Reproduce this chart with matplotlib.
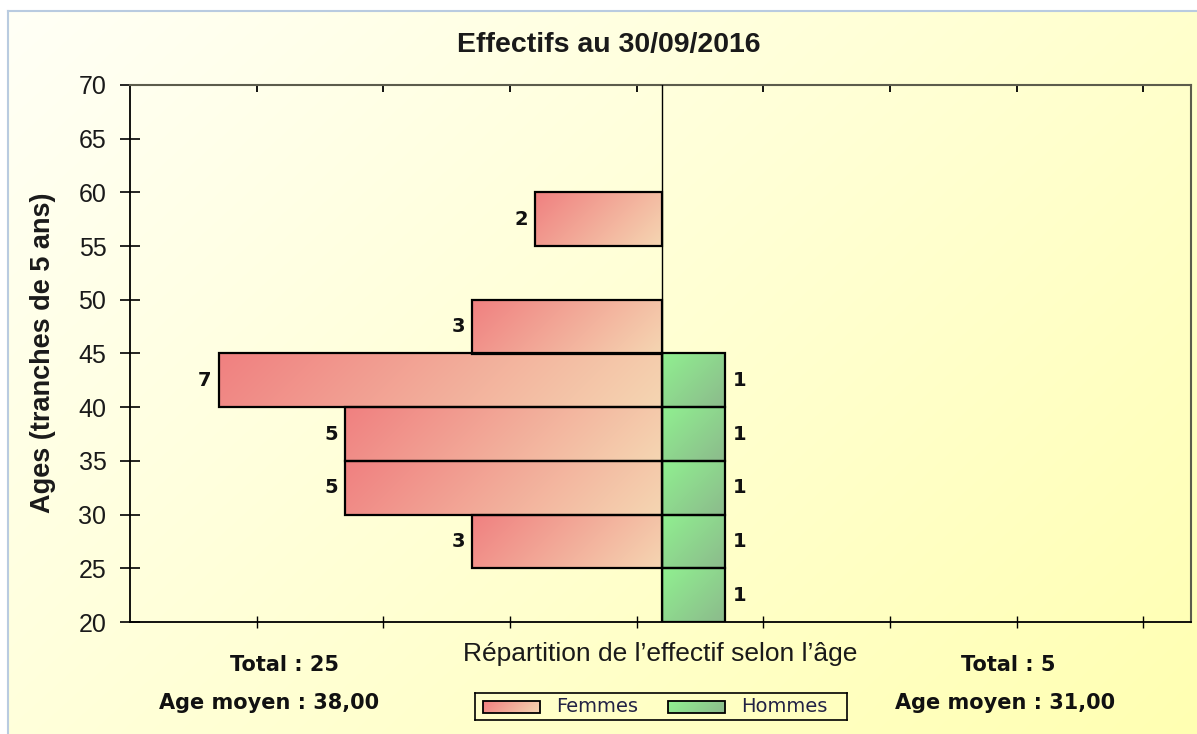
import numpy as np
import matplotlib
matplotlib.use("Agg")
import matplotlib.pyplot as plt
from matplotlib.patches import Rectangle

# tranches d'age (bas de chaque tranche de 5 ans)
tranches = [20, 25, 30, 35, 40, 45, 50, 55]
femmes = [0, 3, 5, 5, 7, 3, 0, 2]
hommes = [1, 1, 1, 1, 1, 0, 0, 0]

titre = "Effectifs au 30/09/2016"
total_f, age_f = "Total : 25", "Age moyen : 38,00"
total_h, age_h = "Total : 5", "Age moyen : 31,00"

W, H = 1197, 734
fig = plt.figure(figsize=(W / 100, H / 100), dpi=100)
fig.patch.set_facecolor("white")


def fx(px):
    return px / W


def fy(py):
    return 1 - py / H


def degrade(c0, c1, nx, ny):
    # gradient diagonal haut-gauche -> bas-droite, en pixels
    j = np.arange(nx)[None, :]
    i = np.arange(ny)[:, None]
    t = (i + j) / max(nx + ny - 2, 1)
    c0 = np.array(c0) / 255.0
    c1 = np.array(c1) / 255.0
    return c0[None, None, :] * (1 - t[..., None]) + c1[None, None, :] * t[..., None]


# fond jaune degrade
bg = fig.add_axes([0, 0, 1, 1], zorder=-5)
bg.axis("off")
bg.imshow(degrade((255, 255, 246), (255, 255, 178), 300, 200),
          extent=(8, W, H, 11), aspect="auto", interpolation="bilinear")
bg.plot([8, 8], [11, H], color="#b9cbe0", lw=1.5)
bg.plot([8, W], [11, 11], color="#b9cbe0", lw=1.5)
bg.set_xlim(0, W)
bg.set_ylim(H, 0)

ax = fig.add_axes([fx(130), fy(622), fx(1191 - 130), (622 - 85) / H])
ax.set_facecolor("none")
ax.set_xlim(-8.4, 8.35)
ax.set_ylim(20, 70)

rose = ((240, 128, 128), (245, 214, 178))
vert = ((144, 240, 144), (140, 186, 140))

f_y = [t for t, v in zip(tranches, femmes) if v]
f_v = [v for v in femmes if v]
h_y = [t for t, v in zip(tranches, hommes) if v]
h_v = [v for v in hommes if v]

bars_f = ax.barh(f_y, [-v for v in f_v], height=5, align="edge",
                 facecolor="none", edgecolor="black", linewidth=1.6, zorder=3)
bars_h = ax.barh(h_y, h_v, height=5, align="edge",
                 facecolor="none", edgecolor="black", linewidth=1.6, zorder=3)

for cont, cols in ((bars_f, rose), (bars_h, vert)):
    for p in cont.patches:
        bb = p.get_bbox()
        x0, x1 = min(bb.x0, bb.x1), max(bb.x0, bb.x1)
        y0, y1 = min(bb.y0, bb.y1), max(bb.y0, bb.y1)
        (px0, py0), (px1, py1) = ax.transData.transform([[x0, y0], [x1, y1]])
        nx = max(int(round(abs(px1 - px0))), 2)
        ny = max(int(round(abs(py1 - py0))), 2)
        im = ax.imshow(degrade(cols[0], cols[1], nx, ny),
                       extent=(x0, x1, y0, y1), origin="upper", aspect="auto",
                       interpolation="bilinear", zorder=2)
        im.set_clip_path(p)

ax.set_xlim(-8.4, 8.35)
ax.set_ylim(20, 70)
ax.axvline(0, color="black", lw=1.0, zorder=4)

ax.bar_label(bars_f, labels=[str(v) for v in f_v], padding=5, fontsize=14,
             fontweight="bold", family="DejaVu Sans", color="#111111")
ax.bar_label(bars_h, labels=[str(v) for v in h_v], padding=5, fontsize=14,
             fontweight="bold", family="DejaVu Sans", color="#111111")

# axes et graduations
xt = -8.4 + 2 * np.arange(1, 9)
ax.set_yticks(np.arange(20, 71, 5))
ax.set_xticks(xt)
ax.set_xticklabels([])
ax.tick_params(axis="y", direction="inout", length=14, width=1.2, labelsize=18, pad=10)
ax.tick_params(axis="x", direction="inout", length=8, width=1.0)
for lab in ax.get_yticklabels():
    lab.set_family("Liberation Sans")
    lab.set_color("#1a1a1a")
sec = ax.secondary_xaxis("top")
sec.set_xticks(xt)
sec.set_xticklabels([])
sec.tick_params(direction="in", length=5, width=1.3)
sec.spines["top"].set_visible(False)
for s in ("left", "bottom"):
    ax.spines[s].set_linewidth(1.3)
    ax.spines[s].set_color("black")
for s in ("top", "right"):
    ax.spines[s].set_linewidth(1.5)
    ax.spines[s].set_color("#5c5c4c")

# textes
fig.text(fx(609), fy(45), titre, ha="center", va="center", fontsize=20.5,
         fontweight="bold", family="Liberation Sans", color="#1a1a1a")
fig.text(fx(43), fy(353), "Ages (tranches de 5 ans)", ha="center", va="center",
         rotation=90, fontsize=19.5, fontweight="bold", family="Liberation Sans",
         color="#1a1a1a")
fig.text(fx(660), fy(654), "Répartition de l’effectif selon l’âge", ha="center",
         va="center", fontsize=19, family="Liberation Sans", color="#1a1a1a")
fig.text(fx(285), fy(665), total_f, ha="center", va="center", fontsize=15,
         fontweight="bold", family="DejaVu Sans", color="#111111")
fig.text(fx(269), fy(703), age_f, ha="center", va="center", fontsize=15,
         fontweight="bold", family="DejaVu Sans", color="#111111")
fig.text(fx(1008), fy(665), total_h, ha="center", va="center", fontsize=15,
         fontweight="bold", family="DejaVu Sans", color="#111111")
fig.text(fx(1005), fy(703), age_h, ha="center", va="center", fontsize=15,
         fontweight="bold", family="DejaVu Sans", color="#111111")

# legende
lax = fig.add_axes([fx(475), fy(720), fx(847 - 475), (720 - 693) / H])
lax.set_facecolor("none")
lax.set_xticks([])
lax.set_yticks([])
for s in lax.spines.values():
    s.set_color("black")
    s.set_linewidth(1.2)
for x0, cols, nom in ((8, rose, "Femmes"), (193, vert, "Hommes")):
    r = Rectangle((x0, 8), 57, 12, facecolor="none", edgecolor="black", lw=1.3, zorder=3)
    lax.add_patch(r)
    lax.imshow(degrade(cols[0], cols[1], 57, 12), extent=(x0, x0 + 57, 20, 8),
               aspect="auto", interpolation="bilinear", zorder=2)
    lax.text(x0 + 73, 14, nom, ha="left", va="center", fontsize=14,
             family="DejaVu Sans", color="#222244")
lax.set_xlim(0, 372)
lax.set_ylim(27, 0)

fig.savefig("out.png", dpi=100)
